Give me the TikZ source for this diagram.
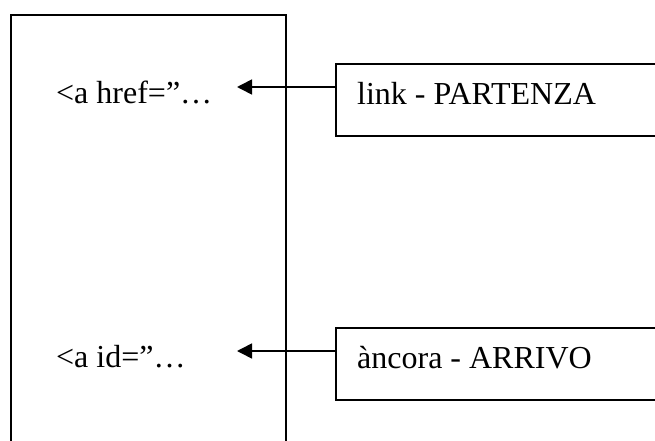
\documentclass[tikz,border=0pt]{standalone}
\usepackage{fontspec}
\setmainfont{Liberation Serif}
\usetikzlibrary{arrows.meta,calc}
\begin{document}
\begin{tikzpicture}[x=1pt,y=-1pt,
  line/.style={line width=1.6pt, black},
  boxstyle/.style={draw, line width=1.6pt, minimum width=325pt, minimum height=72pt, anchor=north west, inner sep=0pt},
  txt/.style={anchor=base west, inner sep=0pt, font=\fontsize{32}{36}\selectfont},
  arr/.style={line width=1.6pt, -{Triangle[length=15pt,width=15pt]}}]
\useasboundingbox (0,0) rectangle (655,441);
% page frame (open at the bottom)
\coordinate (pbl) at (11,450);
\coordinate (ptl) at (11,15);
\coordinate (ptr) at (286,15);
\coordinate (pbr) at (286,450);
\draw[line] (pbl) -- (ptl) -- (ptr) -- (pbr);
% code texts
\node[txt] (href) at (56,103) {<a href=”…};
\node[txt] (aid) at (56,367) {<a id=”…};
% boxes
\node[boxstyle] (box1) at (335,63) {};
\node[boxstyle] (box2) at (335,327) {};
\node[txt] (lab1) at (357,104) {link - PARTENZA};
\node[txt] (lab2) at (357,368) {àncora - ARRIVO};
% arrows
\coordinate (s1) at ($(box1.north west)+(0,24)$);
\coordinate (e1) at (237,87);
\coordinate (s2) at ($(box2.north west)+(0,24)$);
\coordinate (e2) at (237,351);
\draw[arr] (s1) -- (e1);
\draw[arr] (s2) -- (e2);
\end{tikzpicture}
\end{document}
